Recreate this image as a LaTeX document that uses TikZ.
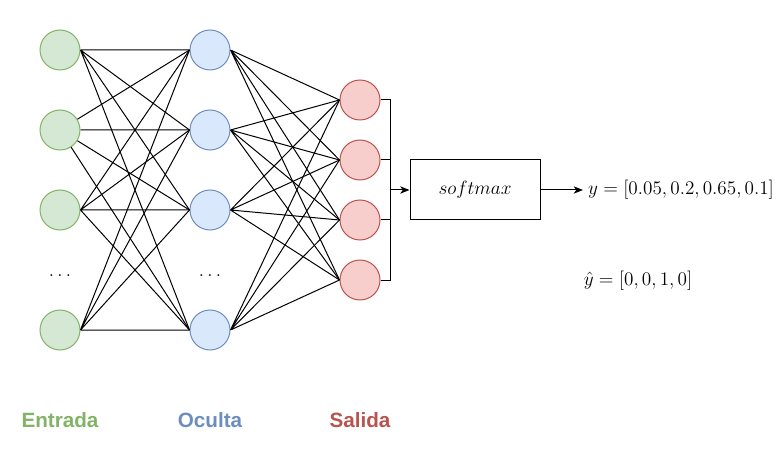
\documentclass[tikz,border=0pt]{standalone}
\usepackage{amsmath, amssymb}
\usepackage{fontspec}
\setsansfont{Liberation Sans}
\usetikzlibrary{arrows.meta}
\definecolor{greenfill}{HTML}{D5E8D4}
\definecolor{greendraw}{HTML}{82B366}
\definecolor{bluefill}{HTML}{DAE8FC}
\definecolor{bluedraw}{HTML}{6C8EBF}
\definecolor{redfill}{HTML}{F8CECC}
\definecolor{reddraw}{HTML}{B85450}
\tikzset{>={Stealth[length=7pt,width=5.5pt,inset=2pt]}}
\tikzset{neuronin/.style={circle, minimum size=30pt, inner sep=0pt, line width=0.75pt, draw=greendraw, fill=greenfill}}
\tikzset{neuronhid/.style={circle, minimum size=30pt, inner sep=0pt, line width=0.75pt, draw=bluedraw, fill=bluefill}}
\tikzset{neuronout/.style={circle, minimum size=30pt, inner sep=0pt, line width=0.75pt, draw=reddraw, fill=redfill}}
\tikzset{layername/.style={font=\fontsize{15.5}{18}\selectfont\sffamily\bfseries}}
\tikzset{mathtext/.style={font=\fontsize{14}{17}\selectfont}}

\begin{document}
\begin{tikzpicture}[x=0.75pt, y=-0.75pt, line width=0.75pt]

\useasboundingbox (0,0) rectangle (781,452);

% entrada
\node[neuronin] (i1) at (60,50) {};
\node[neuronin] (i2) at (60,130) {};
\node[neuronin] (i3) at (60,210) {};
\node[mathtext] (idots) at (60,276) {$\ldots$};
\node[neuronin] (i4) at (60,330) {};

% oculta
\node[neuronhid] (h1) at (210,50) {};
\node[neuronhid] (h2) at (210,130) {};
\node[neuronhid] (h3) at (210,210) {};
\node[mathtext] (hdots) at (210,276) {$\ldots$};
\node[neuronhid] (h4) at (210,330) {};

% salida
\node[neuronout] (o1) at (360,100) {};
\node[neuronout] (o2) at (360,160) {};
\node[neuronout] (o3) at (360,220) {};
\node[neuronout] (o4) at (360,280) {};

% conexiones entrada - oculta
\draw (i1.east)--(h1.west) (i1.east)--(h2.west) (i1.east)--(h3.west) (i1.east)--(h4.west);
\draw (i2)--(h1.west) (i2.east)--(h2.west) (i2)--(h3.west) (i2)--(h4.west);
\draw (i3.east)--(h1.west) (i3.east)--(h2.west) (i3.east)--(h3.west) (i3.east)--(h4.west);
\draw (i4.east)--(h1.west) (i4.east)--(h2.west) (i4.east)--(h3.west) (i4.east)--(h4.west);

% conexiones oculta - salida
\draw (h1.east)--(o1.west) (h1.east)--(o2.west) (h1.east)--(o3.west) (h1.east)--(o4.west);
\draw (h2.east)--(o1.west) (h2.east)--(o2.west) (h2.east)--(o3.west) (h2.east)--(o4.west);
\draw (h3.east)--(o1.west) (h3.east)--(o2.west) (h3.east)--(o3.west) (h3.east)--(o4.west);
\draw (h4.east)--(o1.west) (h4.east)--(o2.west) (h4.east)--(o3.west) (h4.east)--(o4.west);

% softmax
\coordinate (bus) at (390,190);
\draw (o1.east) -| (bus);
\draw (o2.east) -| (bus);
\draw (o3.east) -| (bus);
\draw (o4.east) -| (bus);

\node[draw, minimum width=97.5pt, minimum height=45pt, inner sep=0pt, mathtext] (sm) at (475,190) {$softmax$};
\draw[->] (bus) -- (sm.west);

\node[mathtext, anchor=west, inner sep=3.5pt] (yout) at (583,190) {$y=[0.05,0.2,0.65,0.1]$};
\draw[->] (sm.east) -- (yout.west);

\node[mathtext] (yhat) at (638,281) {$\hat{y}=[0,0,1,0]$};

% capas
\node[layername, text=greendraw] (lin) at (60,420) {Entrada};
\node[layername, text=bluedraw] (lhid) at (210,420) {Oculta};
\node[layername, text=reddraw] (lout) at (360,420) {Salida};

\end{tikzpicture}
\end{document}
